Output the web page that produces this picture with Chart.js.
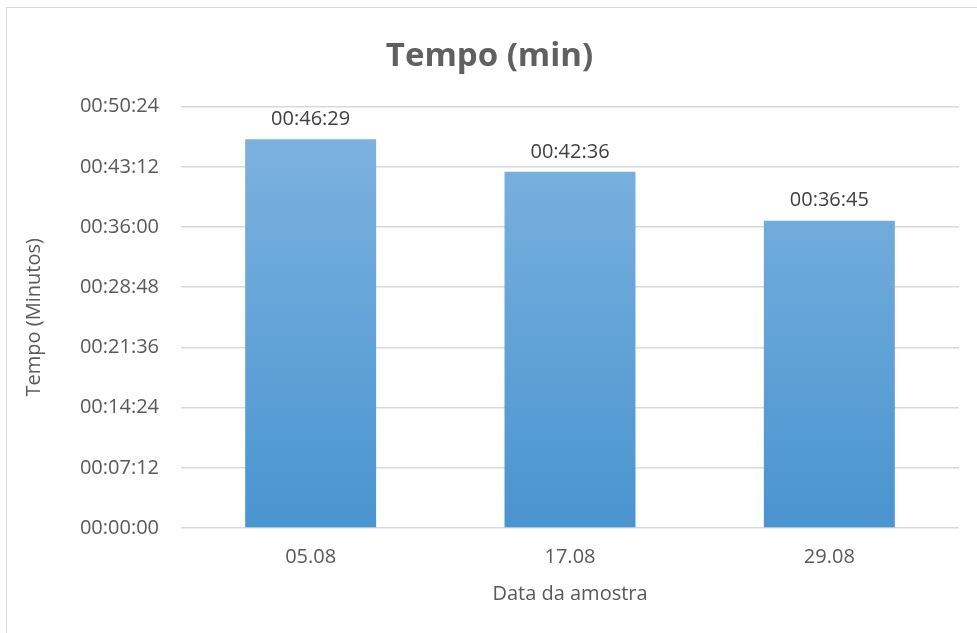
<!DOCTYPE html>
<html>
<head>
<meta charset="utf-8">
<script src="https://cdn.jsdelivr.net/npm/chart.js@4"></script>
<style>
  html, body { margin: 0; padding: 0; background: #fff; }
  #wrap { position: relative; width: 977px; height: 633px; overflow: hidden; }
  #frame { position: absolute; left: 6px; top: 7px; width: 1000px; height: 700px; border: 1px solid #d9d9d9; box-sizing: border-box; }
  canvas { position: absolute; left: 0; top: 0; }
</style>
</head>
<body>
<div id="wrap">
  <div id="frame"></div>
  <canvas id="tempoChart" width="977" height="633"></canvas>
</div>
<script>
// datas das amostras e tempos (em segundos)
const datas = ['05.08', '17.08', '29.08'];
const tempos = [2789, 2556, 2205]; // 00:46:29, 00:42:36, 00:36:45
const yMax = 3024;   // 00:50:24
const yStep = 432;   // 00:07:12

const FONT = "'Open Sans', 'Liberation Sans', sans-serif";
const GREY = '#595959';

function fmtTempo(sec) {
  const m = Math.floor(sec / 60);
  const s = Math.round(sec % 60);
  return '00:' + String(m).padStart(2, '0') + ':' + String(s).padStart(2, '0');
}

const valueLabels = {
  id: 'valueLabels',
  afterDatasetsDraw(chart) {
    const ctx = chart.ctx;
    const meta = chart.getDatasetMeta(0);
    ctx.save();
    ctx.font = '20px ' + FONT;
    ctx.fillStyle = '#404040';
    ctx.textAlign = 'center';
    ctx.textBaseline = 'bottom';
    meta.data.forEach((bar, i) => {
      ctx.fillText(fmtTempo(tempos[i]), bar.x, bar.y - 10);
    });
    ctx.restore();
  }
};

function barFill(context) {
  const chart = context.chart;
  const area = chart.chartArea;
  if (!area) return '#5b9bd5';
  const g = chart.ctx.createLinearGradient(0, area.bottom, 0, area.top);
  g.addColorStop(0, '#4a94d0');
  g.addColorStop(1, '#80b4e0');
  return g;
}

const ctx = document.getElementById('tempoChart').getContext('2d');
new Chart(ctx, {
  type: 'bar',
  data: {
    labels: datas,
    datasets: [{
      label: 'Tempo',
      data: tempos,
      backgroundColor: barFill,
      borderWidth: 0,
      barPercentage: 0.505,
      categoryPercentage: 1
    }]
  },
  options: {
    responsive: false,
    animation: false,
    layout: { padding: { left: 20, right: 18, top: 20, bottom: 27 } },
    plugins: {
      legend: { display: false },
      tooltip: { enabled: false },
      title: {
        display: true,
        text: 'Tempo (min)',
        color: '#606060',
        font: { family: FONT, size: 33, weight: 'bold' },
        padding: { top: 17, bottom: 30 }
      }
    },
    scales: {
      x: {
        grid: { display: false, drawTicks: false },
        border: { display: false },
        ticks: { color: GREY, font: { family: FONT, size: 20 }, padding: 17 },
        title: {
          display: true,
          text: 'Data da amostra',
          color: GREY,
          font: { family: FONT, size: 20 },
          padding: { top: 0, bottom: 0 }
        },
        afterFit: (scale) => { scale.height = 78; }
      },
      y: {
        min: 0,
        max: yMax,
        grid: { color: '#d9d9d9', lineWidth: 1.5, drawTicks: false },
        border: { display: false },
        ticks: {
          stepSize: yStep,
          color: GREY,
          font: { family: FONT, size: 20 },
          padding: 22,
          callback: (v) => fmtTempo(v)
        },
        title: {
          display: true,
          text: 'Tempo (Minutos)',
          color: GREY,
          font: { family: FONT, size: 20 },
          padding: { top: 2, bottom: 0 }
        },
        afterFit: (scale) => { scale.width = 161; }
      }
    }
  },
  plugins: [valueLabels]
});
</script>
</body>
</html>
